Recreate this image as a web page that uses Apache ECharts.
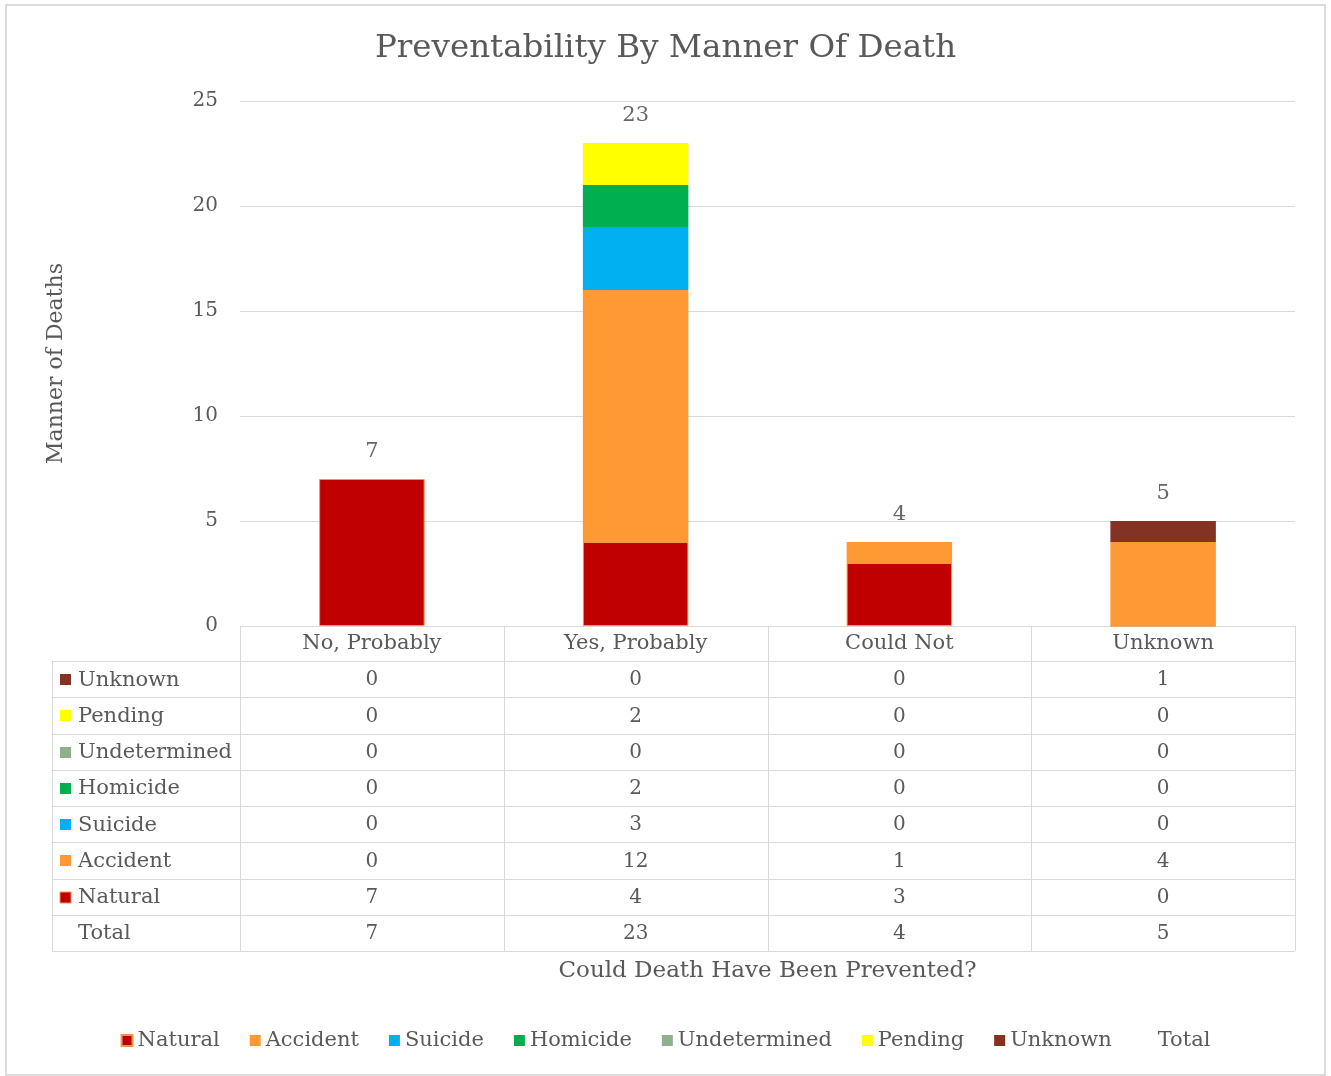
<!DOCTYPE html>
<html>
<head>
<meta charset="utf-8">
<title>Preventability By Manner Of Death</title>
<script src="https://cdn.jsdelivr.net/npm/echarts@6/dist/echarts.min.js"></script>
<style>
  html, body { margin: 0; padding: 0; background: #ffffff; }
  #chart { width: 1331px; height: 1076px; }
</style>
</head>
<body>
<div id="chart"></div>
<script>
// Categories (could death have been prevented?)
const categories = ['No, Probably', 'Yes, Probably', 'Could Not', 'Unknown'];

// Deaths per manner, one value per category
const natural      = [7, 4, 3, 0];
const accident     = [0, 12, 1, 4];
const suicide      = [0, 3, 0, 0];
const homicide     = [0, 2, 0, 0];
const undetermined = [0, 0, 0, 0];
const pending      = [0, 2, 0, 0];
const unknown      = [0, 0, 0, 1];
const total        = [7, 23, 4, 5];

const yTicks = [0, 5, 10, 15, 20, 25];

const FONT = 'DejaVu Serif';
const TEXT = '#595959';
const LINE = '#d9d9d9';

// Plot area geometry
const GRID_L = 240, GRID_R = 1295, GRID_T = 101, GRID_B = 626;
const TABLE_L = 52;
const HEADER_H = 35;
const ROW_H = 36.25;

const series = [
  { name: 'Natural',      data: natural,      color: '#C00000', border: '#F79646' },
  { name: 'Accident',     data: accident,     color: '#FF9933' },
  { name: 'Suicide',      data: suicide,      color: '#00B0F0' },
  { name: 'Homicide',     data: homicide,     color: '#00B050' },
  { name: 'Undetermined', data: undetermined, color: '#8EB08C' },
  { name: 'Pending',      data: pending,      color: '#FFFF00' },
  { name: 'Unknown',      data: unknown,      color: '#843224' }
];

// Data table rows, top to bottom
const tableRows = series.slice().reverse().map(s => ({ name: s.name, values: s.data, color: s.color, border: s.border }));
tableRows.push({ name: 'Total', values: total, color: null });

const chart = echarts.init(document.getElementById('chart'));

const xAxes = [{
  type: 'category',
  data: categories,
  gridIndex: 0,
  position: 'bottom',
  axisLine: { show: true, lineStyle: { color: LINE, width: 1 } },
  axisTick: { show: false },
  axisLabel: { color: TEXT, fontFamily: FONT, fontSize: 21, margin: 18, verticalAlign: 'middle' },
  name: 'Could Death Have Been Prevented?',
  nameLocation: 'middle',
  nameGap: 334,
  nameTextStyle: { color: TEXT, fontFamily: FONT, fontSize: 23 }
}];

// One hidden-line axis per table row; its labels print the row's values under each category
tableRows.forEach((row, i) => {
  xAxes.push({
    type: 'category',
    data: categories,
    gridIndex: 0,
    position: 'bottom',
    offset: HEADER_H + ROW_H * i,
    axisLine: { show: false },
    axisTick: { show: false },
    splitLine: { show: false },
    axisLabel: {
      color: TEXT, fontFamily: FONT, fontSize: 20,
      margin: ROW_H / 2 + 1, verticalAlign: 'middle',
      formatter: (v, idx) => String(row.values[idx])
    }
  });
});

// Table borders and row headers
const graphics = [];
const lineStyle = { stroke: LINE, lineWidth: 1 };
graphics.push({ type: 'rect', shape: { x: 6, y: 5, width: 1319, height: 1070 }, style: { fill: 'none', stroke: '#d0d0d0', lineWidth: 1.5 }, silent: true });
graphics.push({ type: 'line', shape: { x1: GRID_L, y1: GRID_B + 0.5, x2: GRID_R, y2: GRID_B + 0.5 }, style: lineStyle, silent: true });
const tableBottom = GRID_B + HEADER_H + ROW_H * tableRows.length;
for (let i = 0; i <= tableRows.length; i++) {
  const y = Math.round(GRID_B + HEADER_H + ROW_H * i) + 0.5;
  graphics.push({ type: 'line', shape: { x1: TABLE_L, y1: y, x2: GRID_R, y2: y }, style: lineStyle, silent: true });
}
const colW = (GRID_R - GRID_L) / categories.length;
for (let c = 0; c <= categories.length; c++) {
  const x = Math.round(GRID_L + colW * c) + 0.5;
  graphics.push({ type: 'line', shape: { x1: x, y1: GRID_B, x2: x, y2: tableBottom }, style: lineStyle, silent: true });
}
graphics.push({ type: 'line', shape: { x1: TABLE_L + 0.5, y1: GRID_B + HEADER_H, x2: TABLE_L + 0.5, y2: tableBottom }, style: lineStyle, silent: true });
tableRows.forEach((row, i) => {
  const cy = GRID_B + HEADER_H + ROW_H * i + ROW_H / 2;
  if (row.color) {
    graphics.push({
      type: 'rect',
      shape: { x: 60, y: Math.round(cy - 5), width: 11, height: 11 },
      style: { fill: row.color, stroke: row.border || null, lineWidth: row.border ? 1 : 0 },
      silent: true
    });
  }
  graphics.push({
    type: 'text', x: 78, y: cy + 1,
    style: { text: row.name, fill: TEXT, font: '21px "' + FONT + '"', textVerticalAlign: 'middle' },
    silent: true
  });
});

const barSeries = series.map(s => ({
  name: s.name,
  type: 'bar',
  stack: 'deaths',
  barWidth: '40%',
  data: s.data,
  itemStyle: { color: s.color, borderColor: s.border || s.color, borderWidth: s.border ? 1 : 0 },
  emphasis: { disabled: true }
}));

const option = {
  backgroundColor: '#ffffff',
  animation: false,
  title: {
    text: 'Preventability By Manner Of Death',
    left: 'center',
    top: 27,
    textStyle: { color: TEXT, fontFamily: FONT, fontSize: 32.5, fontWeight: 'normal' }
  },
  legend: {
    bottom: 20,
    left: 'center',
    icon: 'rect',
    itemWidth: 11,
    itemHeight: 11,
    itemGap: 30,
    textStyle: { color: TEXT, fontFamily: FONT, fontSize: 21 },
    data: series.map(s => s.name).concat(['Total'])
  },
  grid: { left: GRID_L, right: 1331 - GRID_R, top: GRID_T, bottom: 1076 - GRID_B, containLabel: false },
  xAxis: xAxes,
  yAxis: {
    type: 'value',
    min: 0,
    max: 25,
    interval: 5,
    axisLine: { show: false },
    axisTick: { show: false },
    splitLine: { lineStyle: { color: LINE, width: 1 } },
    axisLabel: { color: TEXT, fontFamily: FONT, fontSize: 20, margin: 22, formatter: v => yTicks.includes(v) ? String(v) : '' },
    name: 'Manner of Deaths',
    nameLocation: 'middle',
    nameGap: 173,
    nameTextStyle: { color: TEXT, fontFamily: FONT, fontSize: 22 }
  },
  series: barSeries.concat([{
    name: 'Total',
    type: 'scatter',
    data: total,
    symbolSize: 0,
    itemStyle: { color: 'rgba(255,255,255,0)' },
    label: { show: true, position: 'top', distance: 17, color: '#404040', fontFamily: FONT, fontSize: 21 },
    emphasis: { disabled: true },
    z: 5
  }]),
  graphic: graphics
};

chart.setOption(option);
</script>
</body>
</html>
